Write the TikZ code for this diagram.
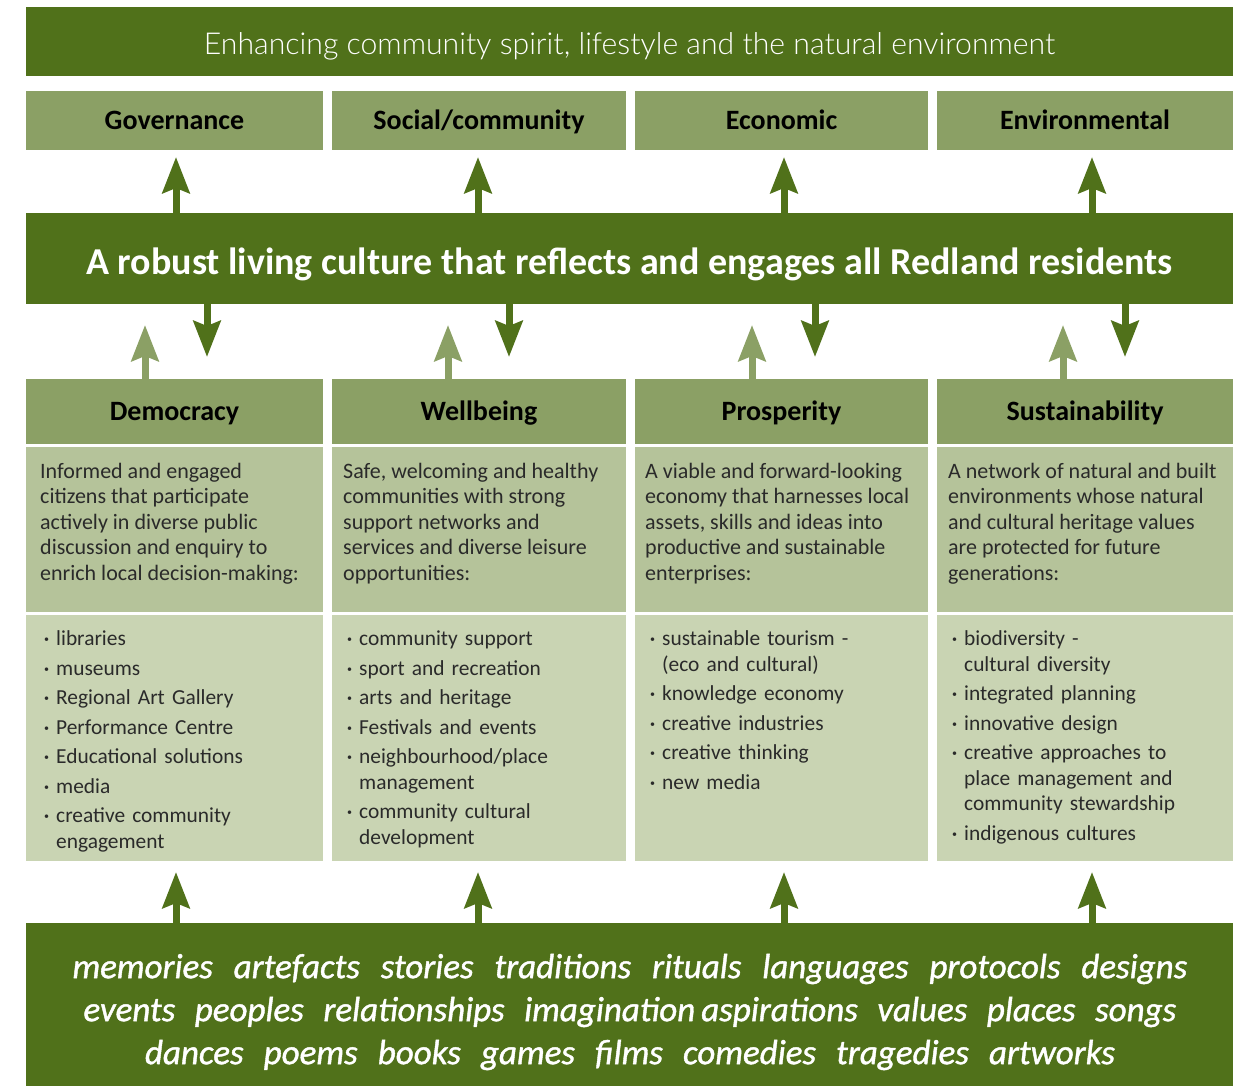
\documentclass[tikz,border=0pt]{standalone}
\usepackage{fontspec}
\setmainfont{Carlito}
\newfontfamily\botfont{Carlito}[ItalicFeatures={FakeBold=1.2}]
\IfFontExistsTF{Lato Light}{\newfontfamily\topfont{Lato Light}}{\newfontfamily\topfont{Carlito}}
\usetikzlibrary{arrows.meta,calc}
\definecolor{dkgreen}{HTML}{50711A}
\definecolor{hdgreen}{HTML}{8BA065}
\definecolor{dsgreen}{HTML}{B5C39A}
\definecolor{ltgreen}{HTML}{C9D4B3}
\definecolor{txtgray}{HTML}{2A2A2A}
\newcommand\litem[1]{\par\vspace{4pt}\noindent\makebox[12pt][l]{\raisebox{2.8pt}{\fontsize{10pt}{10pt}\selectfont •}}#1}
\newcommand\lcont[1]{\par\noindent\hspace*{12pt}#1}
\tikzset{
  box/.style={anchor=north west, inner sep=0pt, outer sep=0pt, draw=none},
  banner/.style={box, fill=dkgreen, minimum width=1207pt, text=white},
  hdr/.style={box, fill=hdgreen, text=black, font=\bfseries\fontsize{28pt}{32pt}\selectfont, text height=18pt, text depth=0pt},
  descbox/.style={box, fill=dsgreen},
  listbox/.style={box, fill=ltgreen},
  desctext/.style={anchor=north west, inner sep=0pt, align=left, text=txtgray, font=\fontsize{22pt}{25.5pt}\selectfont},
  listtext/.style={anchor=north west, inner sep=0pt, text width=275pt, text=txtgray, font=\fontsize{21.4pt}{25.5pt}\selectfont},
  arr/.style={line width=7pt, -{Stealth[length=36pt, width=27pt, inset=5pt]}},
}
\begin{document}
\begin{tikzpicture}[x=1pt, y=-1pt]
\useasboundingbox[fill=white] (0,0) rectangle (1259,1086);
% banners
\node[banner, minimum height=69pt, font=\topfont\fontsize{30.2pt}{36pt}\selectfont, text height=20pt, text depth=0pt] (top) at (26,7) {\raisebox{-3pt}{Enhancing community spirit, lifestyle and the natural environment}};
\node[banner, minimum height=91pt, font=\bfseries\fontsize{38pt}{42pt}\selectfont, text height=24pt, text depth=0pt] (mid) at (26,213) {\raisebox{-4.5pt}{A robust living culture that reflects and engages all Redland residents}};
\node[banner, minimum height=163pt] (bot) at (26,923) {};
% outcome headers
\node[hdr, minimum width=297pt, minimum height=59pt] (gov) at (26,91) {Governance};
\node[hdr, minimum width=294pt, minimum height=59pt] (soc) at (332,91) {Social/community};
\node[hdr, minimum width=293pt, minimum height=59pt] (eco) at (635,91) {Economic};
\node[hdr, minimum width=296pt, minimum height=59pt] (env) at (937,91) {Environmental};
% pillar headers
\node[hdr, minimum width=297pt, minimum height=65pt] (dem) at (26,379) {Democracy};
\node[hdr, minimum width=294pt, minimum height=65pt] (wel) at (332,379) {Wellbeing};
\node[hdr, minimum width=293pt, minimum height=65pt] (pro) at (635,379) {Prosperity};
\node[hdr, minimum width=296pt, minimum height=65pt] (sus) at (937,379) {Sustainability};
% description boxes
\node[descbox, minimum width=297pt, minimum height=165pt] (ddem) at (26,447) {};
\node[descbox, minimum width=294pt, minimum height=165pt] (dwel) at (332,447) {};
\node[descbox, minimum width=293pt, minimum height=165pt] (dpro) at (635,447) {};
\node[descbox, minimum width=296pt, minimum height=165pt] (dsus) at (937,447) {};
% list boxes
\node[listbox, minimum width=297pt, minimum height=246pt] (ldem) at (26,615) {};
\node[listbox, minimum width=294pt, minimum height=246pt] (lwel) at (332,615) {};
\node[listbox, minimum width=293pt, minimum height=246pt] (lpro) at (635,615) {};
\node[listbox, minimum width=296pt, minimum height=246pt] (lsus) at (937,615) {};
% description texts
\node[desctext] (tdem) at ($(ddem.north west)+(14,16)$) {Informed and engaged\\citizens that participate\\actively in diverse public\\discussion and enquiry to\\enrich local decision-making:};
\node[desctext] (twel) at ($(dwel.north west)+(11,16)$) {Safe, welcoming and healthy\\communities with strong\\support networks and\\services and diverse leisure\\opportunities:};
\node[desctext] (tpro) at ($(dpro.north west)+(10,16)$) {A viable and forward-looking\\economy that harnesses local\\assets, skills and ideas into\\productive and sustainable\\enterprises:};
\node[desctext] (tsus) at ($(dsus.north west)+(11,16)$) {A network of natural and built\\environments whose natural\\and cultural heritage values\\are protected for future\\generations:};
% list texts
\node[listtext] (ndem) at ($(ldem.north west)+(18,1)$) {%
\litem{libraries}\litem{museums}\litem{Regional Art Gallery}\litem{Performance Centre}\litem{Educational solutions}\litem{media}\litem{creative community}\lcont{engagement}};
\node[listtext] (nwel) at ($(lwel.north west)+(15,1)$) {%
\litem{community support}\litem{sport and recreation}\litem{arts and heritage}\litem{Festivals and events}\litem{neighbourhood/place}\lcont{management}\litem{community cultural}\lcont{development}};
\node[listtext] (npro) at ($(lpro.north west)+(15,1)$) {%
\litem{sustainable tourism -}\lcont{(eco and cultural)}\litem{knowledge economy}\litem{creative industries}\litem{creative thinking}\litem{new media}};
\node[listtext] (nsus) at ($(lsus.north west)+(15,1)$) {%
\litem{biodiversity -}\lcont{cultural diversity}\litem{integrated planning}\litem{innovative design}\litem{creative approaches to}\lcont{place management and}\lcont{community stewardship}\litem{indigenous cultures}};
% bottom words
\node[align=center, text=white, inner sep=0pt, font=\botfont\itshape\fontsize{35pt}{43pt}\selectfont] (words) at (630,1012) {\makebox[1115pt][s]{memories artefacts stories traditions rituals languages protocols designs}\\\makebox[1093pt][s]{events peoples relationships imagination\hspace{6pt}aspirations values places songs}\\\makebox[970pt][s]{dances poems books games films comedies tragedies artworks}};
% arrows: mid -> outcome headers
\draw[arr, dkgreen, shorten >=7pt] ($(gov.south |- mid.north)+(1.5,0)$) -- ($(gov.south)+(1.5,0)$);
\draw[arr, dkgreen, shorten >=7pt] ($(soc.south |- mid.north)+(-1,0)$) -- ($(soc.south)+(-1,0)$);
\draw[arr, dkgreen, shorten >=7pt] ($(eco.south |- mid.north)+(2.5,0)$) -- ($(eco.south)+(2.5,0)$);
\draw[arr, dkgreen, shorten >=7pt] ($(env.south |- mid.north)+(7,0)$) -- ($(env.south)+(7,0)$);
% arrows: mid -> pillars (down)
\draw[arr, dkgreen, shorten >=22pt] ($(dem.north |- mid.south)+(32.5,0)$) -- ($(dem.north)+(32.5,0)$);
\draw[arr, dkgreen, shorten >=22pt] ($(wel.north |- mid.south)+(30,0)$) -- ($(wel.north)+(30,0)$);
\draw[arr, dkgreen, shorten >=22pt] ($(pro.north |- mid.south)+(33.5,0)$) -- ($(pro.north)+(33.5,0)$);
\draw[arr, dkgreen, shorten >=22pt] ($(sus.north |- mid.south)+(40,0)$) -- ($(sus.north)+(40,0)$);
% arrows: pillars -> mid (up, light)
\draw[arr, hdgreen, shorten >=21pt] ($(dem.north)+(-29.5,0)$) -- ($(dem.north |- mid.south)+(-29.5,0)$);
\draw[arr, hdgreen, shorten >=21pt] ($(wel.north)+(-31,0)$) -- ($(wel.north |- mid.south)+(-31,0)$);
\draw[arr, hdgreen, shorten >=21pt] ($(pro.north)+(-29.5,0)$) -- ($(pro.north |- mid.south)+(-29.5,0)$);
\draw[arr, hdgreen, shorten >=21pt] ($(sus.north)+(-22,0)$) -- ($(sus.north |- mid.south)+(-22,0)$);
% arrows: bottom -> lists
\draw[arr, dkgreen, shorten >=11pt] ($(ldem.south |- bot.north)+(1.5,0)$) -- ($(ldem.south)+(1.5,0)$);
\draw[arr, dkgreen, shorten >=11pt] ($(lwel.south |- bot.north)+(-1,0)$) -- ($(lwel.south)+(-1,0)$);
\draw[arr, dkgreen, shorten >=11pt] ($(lpro.south |- bot.north)+(2.5,0)$) -- ($(lpro.south)+(2.5,0)$);
\draw[arr, dkgreen, shorten >=11pt] ($(lsus.south |- bot.north)+(7,0)$) -- ($(lsus.south)+(7,0)$);
\end{tikzpicture}
\end{document}
